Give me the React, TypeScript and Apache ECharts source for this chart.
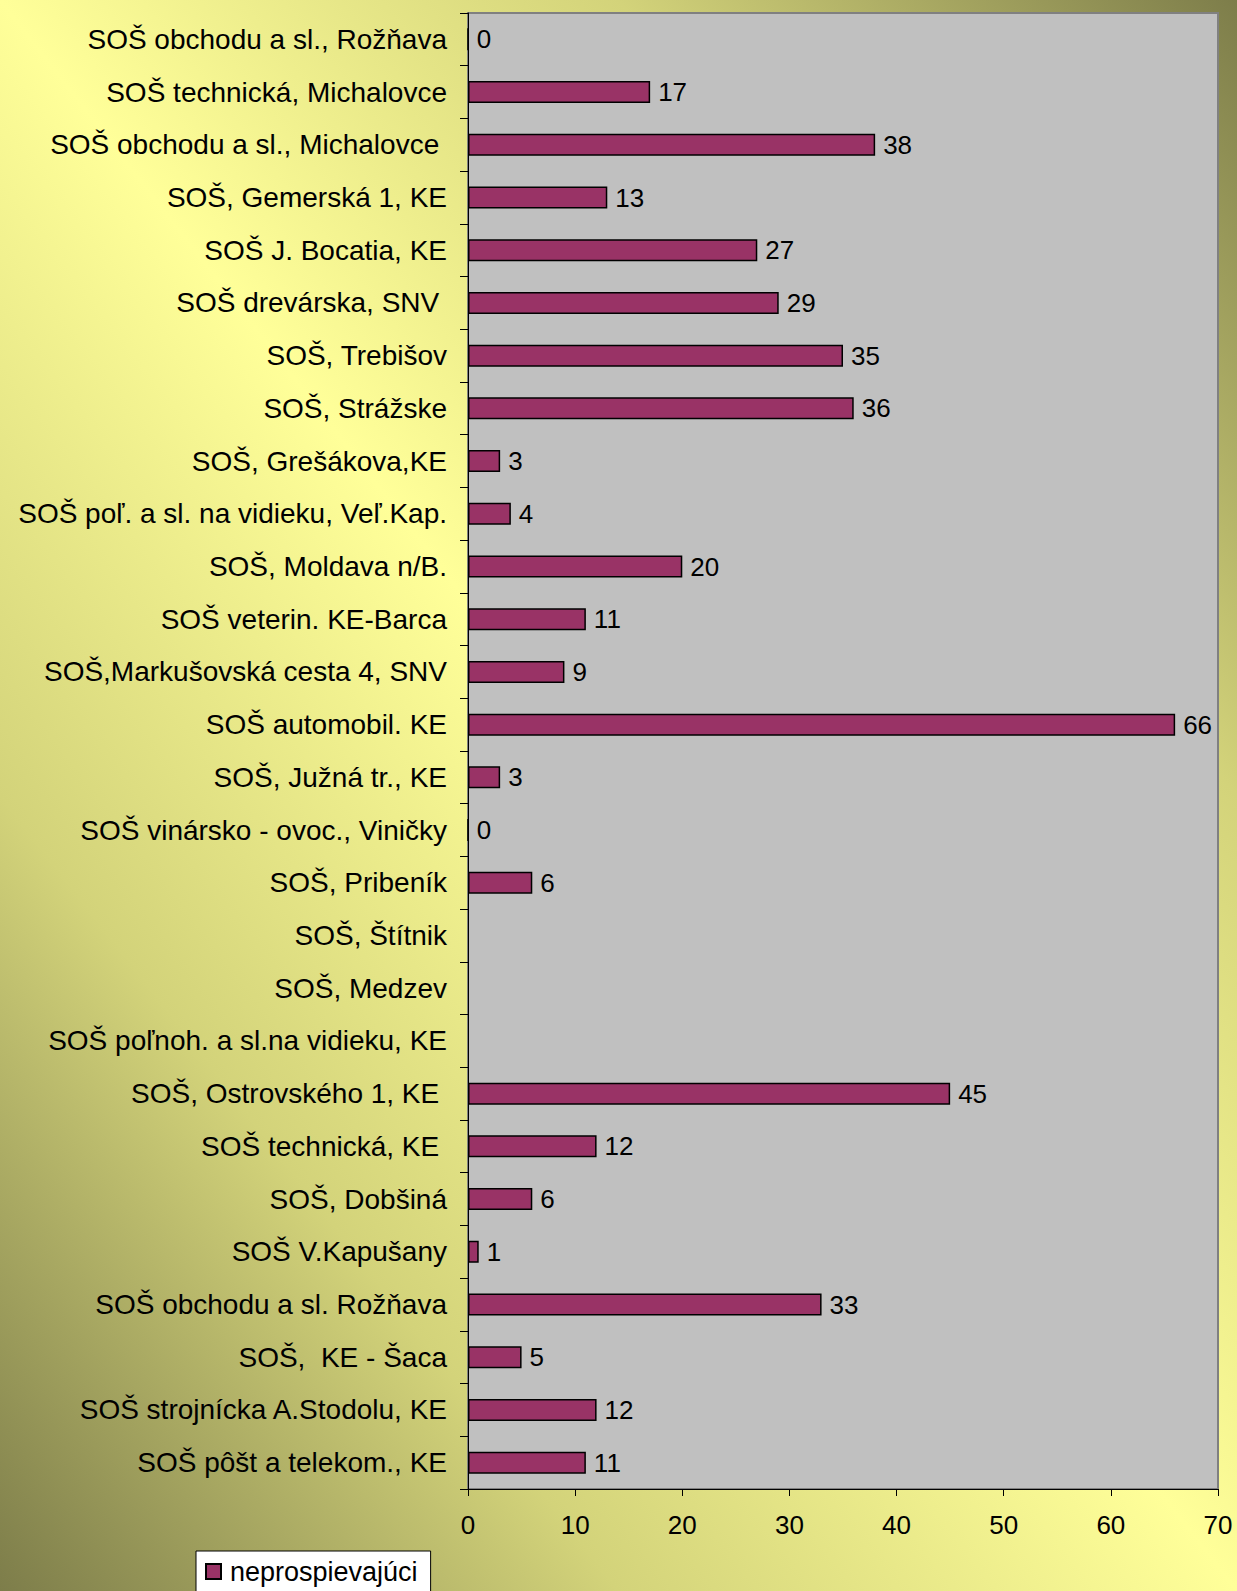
import React, { useEffect, useRef } from "react";
import * as echarts from "echarts";

const categories: string[] = [
  "SOŠ obchodu a sl., Rožňava",
  "SOŠ technická, Michalovce",
  "SOŠ obchodu a sl., Michalovce ",
  "SOŠ, Gemerská 1, KE",
  "SOŠ J. Bocatia, KE",
  "SOŠ drevárska, SNV ",
  "SOŠ, Trebišov",
  "SOŠ, Strážske",
  "SOŠ, Grešákova,KE",
  "SOŠ poľ. a sl. na vidieku, Veľ.Kap.",
  "SOŠ, Moldava n/B.",
  "SOŠ veterin. KE-Barca",
  "SOŠ,Markušovská cesta 4, SNV",
  "SOŠ automobil. KE",
  "SOŠ, Južná tr., KE",
  "SOŠ vinársko - ovoc., Viničky",
  "SOŠ, Pribeník",
  "SOŠ, Štítnik",
  "SOŠ, Medzev",
  "SOŠ poľnoh. a sl.na vidieku, KE",
  "SOŠ, Ostrovského 1, KE ",
  "SOŠ technická, KE ",
  "SOŠ, Dobšiná",
  "SOŠ V.Kapušany",
  "SOŠ obchodu a sl. Rožňava",
  "SOŠ,  KE - Šaca",
  "SOŠ strojnícka A.Stodolu, KE",
  "SOŠ pôšt a telekom., KE",
];

const neprospievajuci: (number | null)[] = [
  0, 17, 38, 13, 27, 29, 35, 36, 3, 4, 20, 11, 9, 66, 3, 0, 6, null, null, null, 45, 12, 6, 1, 33, 5, 12, 11,
];

const seriesName = "neprospievajúci";
const xMin = 0;
const xMax = 70;
const xInterval = 10;

const W = 1237;
const H = 1591;

export default function App() {
  const ref = useRef<HTMLDivElement>(null);

  useEffect(() => {
    if (!ref.current) return;
    const chart = echarts.init(ref.current, undefined, { renderer: "svg", width: W, height: H });

    // diagonal gradient: bright along the top-left -> bottom-right diagonal, dark in the other corners
    const len = Math.sqrt(W * W + H * H);
    const ux = H / len;
    const uy = -W / len;
    const cx = W / 2;
    const cy = H / 2;
    const proj = Math.abs((-cx) * ux + (H - cy) * uy);
    const bg = {
      type: "linear",
      global: true,
      x: cx - proj * ux,
      y: cy - proj * uy,
      x2: cx + proj * ux,
      y2: cy + proj * uy,
      colorStops: [
        { offset: 0, color: "#7d7d4a" },
        { offset: 0.25, color: "#d3d37a" },
        { offset: 0.5, color: "#ffff99" },
        { offset: 0.75, color: "#d3d37a" },
        { offset: 1, color: "#7d7d4a" },
      ],
    };

    const font = "'Liberation Sans', Arial, sans-serif";

    chart.setOption({
      animation: false,
      backgroundColor: bg,
      textStyle: { fontFamily: font },
      grid: {
        left: 468,
        right: 19,
        top: 13,
        bottom: 102,
        show: true,
        backgroundColor: "#c0c0c0",
        borderColor: "#808080",
        borderWidth: 2,
        containLabel: false,
      },
      legend: {
        data: [seriesName],
        left: 196,
        top: 1551,
        backgroundColor: "#ffffff",
        borderColor: "#000000",
        borderWidth: 1,
        borderRadius: 0,
        padding: [7, 13, 9, 9],
        itemWidth: 15,
        itemHeight: 15,
        icon: "rect",
        textStyle: { fontSize: 27, color: "#000", fontFamily: font, padding: [0, 0, 0, 4] },
      },
      xAxis: {
        type: "value",
        min: xMin,
        max: xMax,
        interval: xInterval,
        axisLine: { show: true, lineStyle: { color: "#000", width: 1 } },
        axisTick: { show: true, length: 7, lineStyle: { color: "#000" } },
        axisLabel: { fontSize: 26, color: "#000", margin: 23, fontFamily: font },
        splitLine: { show: false },
      },
      yAxis: {
        type: "category",
        inverse: true,
        data: categories,
        axisLine: { show: true, lineStyle: { color: "#000", width: 1 } },
        axisTick: { show: true, length: 8, inside: false, lineStyle: { color: "#000" } },
        axisLabel: { fontSize: 28, color: "#000", margin: 21, fontFamily: font, interval: 0 },
        splitLine: { show: false },
      },
      series: [
        {
          name: seriesName,
          type: "bar",
          data: neprospievajuci,
          barWidth: 22,
          itemStyle: { color: "#993366", borderColor: "#000", borderWidth: 1.5 },
          label: {
            show: true,
            position: "right",
            distance: 8,
            fontSize: 26,
            color: "#000",
            fontFamily: font,
          },
        },
      ],
    });
    return () => chart.dispose();
  }, []);

  return <div ref={ref} style={{ position: "absolute", left: 0, top: 0, width: W, height: H }} />;
}
